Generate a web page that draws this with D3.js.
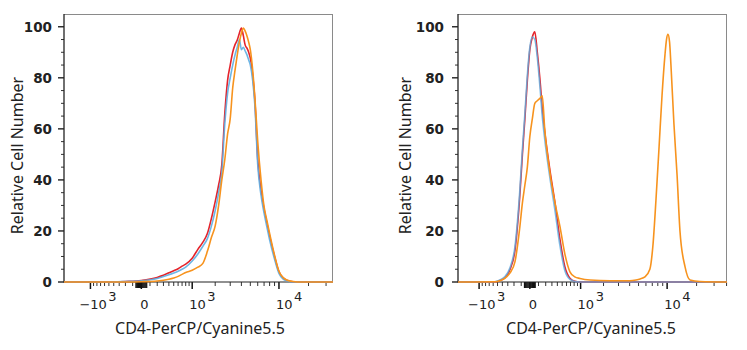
<!DOCTYPE html>
<html><head><meta charset="utf-8">
<script src="https://cdn.jsdelivr.net/npm/d3@7"></script>
<style>body{margin:0;background:#fff}</style>
</head><body><svg id="c" width="747" height="350"></svg>
<script>
// ---------- data ----------
const leftX = [-2200,-1000,-500,-200,0,200,400,500,600,700,800,1000,1200,1400,1600,1800,2000,2200,2400,2600,2800,3000,3200,3400,3600,3800,4000,4200,4400,4600,4800,5000,5300,5600,6000,6500,7000,7500,8000,9000,10000,11000,12000,14000,17000,35200];
const leftRed = [0,0,0,0.2,0.6,1.8,3.6,4.4,5.2,6.2,7,9.3,12.8,15.6,19,25,31.5,38,46,66,79,85,90,93,94.8,97.5,99.5,96.5,92.8,91.6,90,87.7,81,71,48,36,28.5,23,18,10,4,1.6,0.7,0.1,0,0];
const leftBlue = [0,0,0,0.2,0.5,1.4,2.8,3.5,4.2,5,5.8,8.2,11,14,17,22,28,35,43,62,74,80,85,89,92,95,91,92,90.5,89,87,85,79,69,46,34,27,21.5,16.5,9,3.4,1.2,0.5,0,0,0];
const leftOrange = [0,0,0,0,0.1,0.4,1.1,1.6,2.2,3,3.7,4.6,5.8,7.3,12,17.5,22,30,40,48,58,64,76,83,89,94,97.5,99.5,98.3,96.4,94,91,83,72,55,40,29.5,24,19,10.5,4.2,1.8,0.8,0.2,0,0];

const rightX = [-1900,-560,-450,-355,-265,-185,-120,-85,-55,-27,0,27,55,85,120,150,185,265,355,450,560,685,820,980,1350,2400,4000,4700,5200,5850,6600,7100,7650,8250,8850,9500,9850,10200,10600,10950,11750,12650,13550,15250,17150,21650,40400];
const rightRed = [0,0,0.6,1.6,4.8,12.5,33,50,64,79,91,96,98,90,79,68,59,44,31,17,6,1.5,0.3,0,0,0,0,0,0,0,0,0,0,0,0,0,0,0,0,0,0,0,0,0,0,0,0];
const rightBlue = [0,0.1,0.8,2,5.5,14,35,52,66,81,92,96,95,88,76,65,56,41,28,14.5,4.5,1,0.2,0,0,0,0,0,0,0,0,0,0,0,0,0,0,0,0,0,0,0,0,0,0,0,0];
const rightOrange = [0,0.1,0.5,1.4,3.5,8,21,31,38,45,57,64,70,71,72,73,60,43,31,22,11,4,2,1.4,0.8,0.5,0.5,0.8,1.2,2,5,14,32,53,73,89,95,97,94,85,62,42,20,6,0.8,0.2,0];

const yTicks = [0,20,40,60,80,100];
const xMajor = [-1000,0,1000,10000];
const xMajorBase = ["−10","0","10","10"];
const xMajorExp = ["3","","3","4"];
const xTitle = "CD4-PerCP/Cyanine5.5";
const yTitle = "Relative Cell Number";
const seriesColors = {red:"#e4232b", blue:"#5eaee2", orange:"#f7931e"};

// ---------- drawing ----------
const svg = d3.select("#c");
const plotTop = 14, plotBottom = 282;

function panel(p){
  const g = svg.append("g");
  const x = d3.scaleSymlog().constant(460).domain(p.domain).range([p.x0, p.x1]);
  const y = d3.scaleLinear().domain([0,105]).range([plotBottom, plotTop]);

  g.append("line").attr("x1",p.x0).attr("x2",p.x1).attr("y1",plotTop+0.5).attr("y2",plotTop+0.5).attr("stroke","#8a8a8a").attr("stroke-width",1);
  g.append("line").attr("x1",p.x1-0.5).attr("x2",p.x1-0.5).attr("y1",plotTop).attr("y2",plotBottom).attr("stroke","#8a8a8a").attr("stroke-width",1);

  const yMinor = d3.range(0,101,5).filter(v=>v%20!==0);
  g.selectAll(".ymin").data(yMinor).join("line")
    .attr("x1",p.x0-3).attr("x2",p.x0).attr("y1",d=>y(d)).attr("y2",d=>y(d))
    .attr("stroke","#333").attr("stroke-width",1);
  g.selectAll(".ymaj").data(yTicks).join("line")
    .attr("x1",p.x0-6).attr("x2",p.x0).attr("y1",d=>y(d)).attr("y2",d=>y(d))
    .attr("stroke","#222").attr("stroke-width",1.4);
  g.selectAll(".ylab").data(yTicks).join("text")
    .attr("x",p.x0-p.ylabGap).attr("y",d=>y(d)+4.8).attr("text-anchor","end")
    .attr("font-family","DejaVu Sans").attr("font-size",13.5).attr("font-weight","bold").attr("fill","#222")
    .text(d=>d);
  g.append("line").attr("x1",p.x0).attr("x2",p.x0).attr("y1",plotTop).attr("y2",plotBottom+0.5).attr("stroke","#222").attr("stroke-width",1.3);

  const minor = [].concat(d3.range(-900,0,100), d3.range(100,1000,100), d3.range(2000,10000,1000), d3.range(20000,60000,10000))
    .filter(v=>v>p.domain[0] && v<p.domain[1]);
  g.selectAll(".xmin").data(minor).join("line")
    .attr("x1",d=>x(d)).attr("x2",d=>x(d)).attr("y1",plotBottom).attr("y2",plotBottom+4)
    .attr("stroke","#333").attr("stroke-width",1);
  const cluster = d3.range(-60,61,10);
  g.selectAll(".xcl").data(cluster).join("line")
    .attr("x1",d=>x(d)).attr("x2",d=>x(d)).attr("y1",plotBottom).attr("y2",plotBottom+6)
    .attr("stroke","#111").attr("stroke-width",1.2);
  g.selectAll(".xmaj").data(xMajor).join("line")
    .attr("x1",d=>x(d)).attr("x2",d=>x(d)).attr("y1",plotBottom).attr("y2",plotBottom+7)
    .attr("stroke","#111").attr("stroke-width",1.5);
  xMajor.forEach((v,i)=>{
    const t = g.append("text").attr("font-family","DejaVu Sans").attr("font-size",13).attr("fill","#222").attr("y",309);
    if(xMajorExp[i]===""){
      t.attr("x",x(v)+3).attr("text-anchor","middle").text(xMajorBase[i]);
    } else {
      t.attr("x",x(v)+(v<0?-11:-3)).attr("text-anchor","start");
      t.append("tspan").text(xMajorBase[i]);
      t.append("tspan").attr("dx",1.5).attr("dy",-8).text(xMajorExp[i]);
    }
  });
  g.append("line").attr("x1",p.x0).attr("x2",p.x1).attr("y1",plotBottom).attr("y2",plotBottom).attr("stroke","#222").attr("stroke-width",1.2);

  const line = d3.line().x(d=>x(d[0])).y(d=>y(d[1])).curve(d3.curveMonotoneX);
  p.series.forEach(s=>{
    g.append("path").datum(p.xs.map((v,i)=>[v,s.vals[i]]))
      .attr("d",line).attr("fill","none").attr("stroke",s.color)
      .attr("stroke-width",1.6).attr("stroke-opacity",s.op).attr("stroke-linejoin","round");
  });

  g.append("text").attr("transform",`translate(${p.ytx},155.5) rotate(-90)`)
    .attr("text-anchor","middle").attr("font-family","Noto Sans").attr("font-size",16).attr("fill","#222").text(yTitle);
  g.append("text").attr("x",p.xtx).attr("y",334).attr("text-anchor","middle")
    .attr("font-family","Noto Sans").attr("font-size",16).attr("fill","#222").text(xTitle);
}

panel({x0:64, x1:333, domain:[-2200,35200], ylabGap:12, ytx:23, xtx:200, xs:leftX,
  series:[{vals:leftRed,color:seriesColors.red,op:1},{vals:leftBlue,color:seriesColors.blue,op:0.9},{vals:leftOrange,color:seriesColors.orange,op:1}]});
panel({x0:458, x1:727, domain:[-1900,40400], ylabGap:14, ytx:411, xtx:591, xs:rightX,
  series:[{vals:rightRed,color:seriesColors.red,op:1},{vals:rightBlue,color:seriesColors.blue,op:0.8},{vals:rightOrange,color:seriesColors.orange,op:1}]});
</script></body></html>
